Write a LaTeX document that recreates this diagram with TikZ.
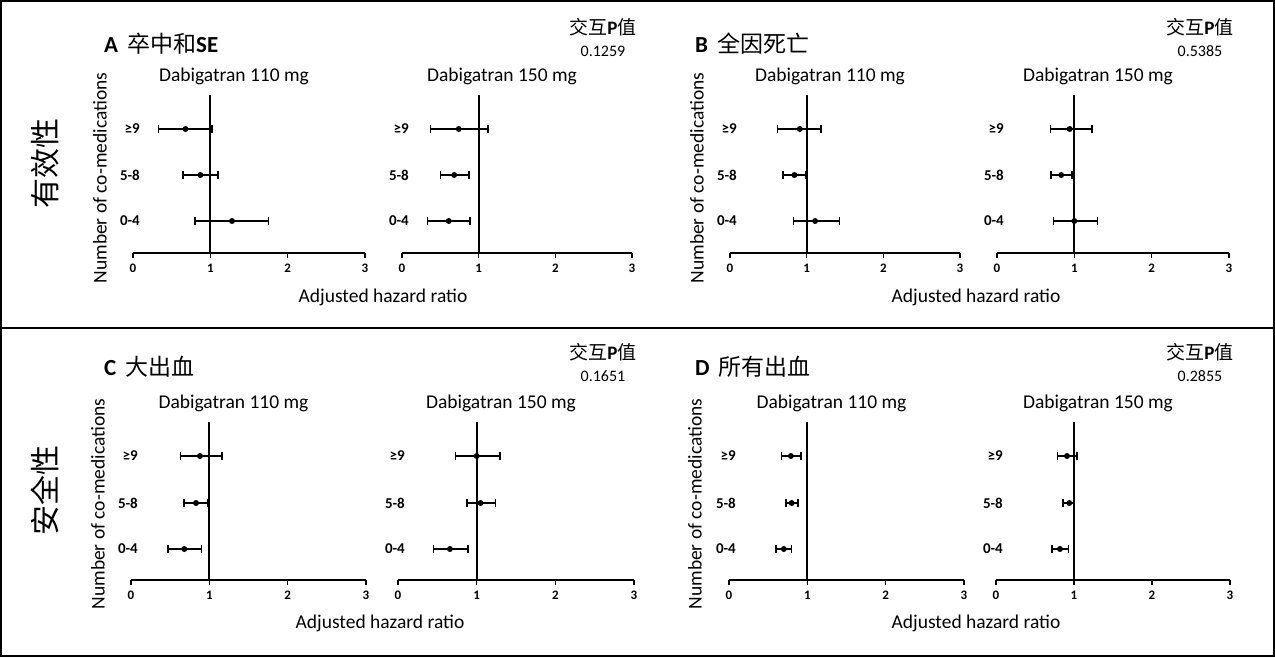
\documentclass[tikz,border=0pt]{standalone}
\usepackage{fontspec}
\setmainfont{Carlito}
\newfontfamily\cjk{Noto Sans CJK SC}
\begin{document}
\begin{tikzpicture}[x=1pt,y=-1pt,
  lab/.style={font=\fontsize{19.5}{21}\selectfont,inner sep=0pt},
  rowlab/.style={font=\bfseries\fontsize{15}{17}\selectfont,anchor=east,inner sep=0pt},
  tick/.style={font=\bfseries\fontsize{13}{14}\selectfont,inner sep=0pt},
  ttl/.style={font=\fontsize{23}{25}\selectfont,anchor=west,inner sep=0pt},
  pv/.style={font=\fontsize{19}{21}\selectfont,inner sep=0pt},
  pn/.style={font=\fontsize{16}{18}\selectfont,inner sep=0pt},
  side/.style={font=\cjk\fontsize{30}{32}\selectfont,rotate=90,inner sep=0pt},
  bar/.style={line width=1.6pt}]
\useasboundingbox (0,0) rectangle (1275,657);
\draw[line width=1.2pt] (1,1) rectangle (1274,656);
\draw[line width=1.2pt] (1,328) -- (1274,328);
\newcommand\fplot[4]{%
  \pgfmathsetmacro\uu{(#2-#1)/3}
  \draw[line width=2pt] (#1,#3) -- (#2,#3);
  \foreach \k in {0,1,2,3}{
    \draw[line width=1.6pt] (#1+\k*\uu,#3) -- (#1+\k*\uu,#3+5);
    \node[tick] at (#1+\k*\uu,#3+15) {\k};}
  \draw[line width=2pt] (#1+\uu,#3) -- (#1+\uu,#3-158);
  \foreach \lb/\dy/\hh/\lo/\hi in {#4}{
    \draw[bar] (#1+\lo*\uu,#3-\dy) -- (#1+\hi*\uu,#3-\dy);
    \draw[bar] (#1+\lo*\uu,#3-\dy-4) -- (#1+\lo*\uu,#3-\dy+4);
    \draw[bar] (#1+\hi*\uu,#3-\dy-4) -- (#1+\hi*\uu,#3-\dy+4);
    \fill (#1+\hh*\uu,#3-\dy) circle (3);
    \node[rowlab] at (#1+7,#3-\dy) {\lb};}
  \node[lab] at ({(#1+#2)/2-15},#3-177) {Dabigatran \pgfmathparse{int(#1>300 && #1<700 || #1>900)}\ifnum\pgfmathresult=1 150\else 110\fi{} mg};
}
% Panel A
\fplot{133}{365}{253}{≥9/124/0.68/0.33/1.02, 5-8/78/0.87/0.65/1.10, 0-4/32/1.28/0.80/1.75}
\fplot{402}{632}{253}{≥9/124/0.74/0.37/1.12, 5-8/78/0.68/0.50/0.87, 0-4/32/0.61/0.33/0.89}
% Panel B
\fplot{730}{960}{253}{≥9/124/0.91/0.62/1.19, 5-8/78/0.84/0.69/0.99, 0-4/32/1.11/0.83/1.43}
\fplot{997}{1229}{253}{≥9/124/0.94/0.69/1.23, 5-8/78/0.83/0.70/0.97, 0-4/32/1.00/0.73/1.30}
% Panel C
\fplot{131}{366}{580}{≥9/124/0.88/0.63/1.16, 5-8/77/0.83/0.68/0.98, 0-4/31/0.68/0.47/0.90}
\fplot{398}{634}{580}{≥9/124/1.00/0.73/1.30, 5-8/77/1.05/0.88/1.24, 0-4/31/0.66/0.45/0.89}
% Panel D
\fplot{729}{964}{580}{≥9/124/0.79/0.67/0.92, 5-8/77/0.80/0.73/0.88, 0-4/31/0.70/0.60/0.80}
\fplot{996}{1230}{580}{≥9/124/0.91/0.79/1.04, 5-8/77/0.94/0.86/1.00, 0-4/31/0.82/0.72/0.93}
% y labels and x labels
\foreach \xx/\yy [count=\i] in {100/178, 697/178, 98/504, 695/504}{
  \node[lab,rotate=90] (yl\i) at (\xx,\yy) {Number of co-medications};}
\foreach \xx/\yy [count=\i] in {383/297, 976/297, 380/623, 976/623}{
  \node[lab] (xl\i) at (\xx,\yy) {Adjusted hazard ratio};}
% titles
\node[ttl] (tA) at (104,44) {\textbf{A}\, {\cjk 卒中和}\textbf{SE}};
\node[ttl] (tB) at (695,44) {\textbf{B}\, {\cjk 全因死亡}};
\node[ttl] (tC) at (104,367) {\textbf{C}\, {\cjk 大出血}};
\node[ttl] (tD) at (695,367) {\textbf{D}\, {\cjk 所有出血}};
\foreach \xx/\yy/\v [count=\i] in {603/27/0.1259, 1200/27/0.5385, 603/352/0.1651, 1200/352/0.2855}{
  \node[pv] (p\i) at (\xx,\yy) {{\cjk 交互}\textbf{P}{\cjk 值}};
  \node[pn] (n\i) at (\xx,\yy+24) {\v};}
\node[side] (s1) at (45,163) {有效性};
\node[side] (s2) at (45,490) {安全性};
\end{tikzpicture}
\end{document}
